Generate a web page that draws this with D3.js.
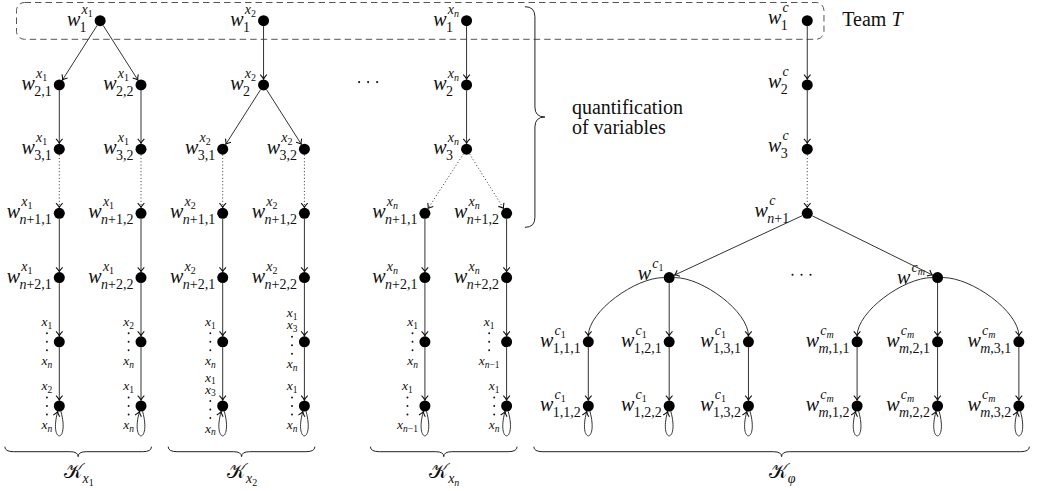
<!DOCTYPE html>
<html><head><meta charset="utf-8">
<script src="https://cdn.jsdelivr.net/npm/d3@7"></script>
<style>
body{margin:0;background:#fff}
svg{display:block}
text{font-family:"Liberation Serif","DejaVu Serif",serif;fill:#111}
</style></head>
<body><svg id="c" width="1051" height="491"></svg>
<script>
// ---------- data ----------
// id, column (x unit), row, superscript, subscript
const nodes = [
 ["a1",1,0,"x_1","1"],
 ["a21",0,1,"x_1","2,1"],["a22",2,1,"x_1","2,2"],
 ["a31",0,2,"x_1","3,1"],["a32",2,2,"x_1","3,2"],
 ["a41",0,3,"x_1","n+1,1"],["a42",2,3,"x_1","n+1,2"],
 ["a51",0,4,"x_1","n+2,1"],["a52",2,4,"x_1","n+2,2"],
 ["a61",0,5,"",""],["a62",2,5,"",""],
 ["a71",0,6,"",""],["a72",2,6,"",""],
 ["b1",5,0,"x_2","1"],["b2",5,1,"x_2","2"],
 ["b31",4,2,"x_2","3,1"],["b32",6,2,"x_2","3,2"],
 ["b41",4,3,"x_2","n+1,1"],["b42",6,3,"x_2","n+1,2"],
 ["b51",4,4,"x_2","n+2,1"],["b52",6,4,"x_2","n+2,2"],
 ["b61",4,5,"",""],["b62",6,5,"",""],
 ["b71",4,6,"",""],["b72",6,6,"",""],
 ["n1",9.97,0,"x_n","1"],["n2",9.97,1,"x_n","2"],["n3",9.97,2,"x_n","3"],
 ["n41",8.95,3,"x_n","n+1,1"],["n42",10.95,3,"x_n","n+1,2"],
 ["n51",8.95,4,"x_n","n+2,1"],["n52",10.95,4,"x_n","n+2,2"],
 ["n61",8.95,5,"",""],["n62",10.95,5,"",""],
 ["n71",8.95,6,"",""],["n72",10.95,6,"",""],
 ["c1",18.31,0,"c","1"],["c2",18.31,1,"c","2"],["c3",18.31,2,"c","3"],["c4",18.31,3,"c","n+1"],
 ["d",14.93,4,"c_1",""],
 ["d11",12.95,5,"c_1","1,1,1"],["d21",14.93,5,"c_1","1,2,1"],["d31",16.87,5,"c_1","1,3,1"],
 ["d12",12.95,6,"c_1","1,1,2"],["d22",14.93,6,"c_1","1,2,2"],["d32",16.87,6,"c_1","1,3,2"],
 ["e",21.5,4,"c_m",""],
 ["e11",19.53,5,"c_m","m,1,1"],["e21",21.5,5,"c_m","m,2,1"],["e31",23.49,5,"c_m","m,3,1"],
 ["e12",19.53,6,"c_m","m,1,2"],["e22",21.5,6,"c_m","m,2,2"],["e32",23.49,6,"c_m","m,3,2"]
];
// from, to, style (s solid, d dotted, L/R curved)
const edges = [
 ["a1","a21","s"],["a1","a22","s"],["a21","a31","s"],["a22","a32","s"],
 ["a31","a41","d"],["a32","a42","d"],["a41","a51","s"],["a42","a52","s"],
 ["a51","a61","s"],["a52","a62","s"],["a61","a71","s"],["a62","a72","s"],
 ["b1","b2","s"],["b2","b31","s"],["b2","b32","s"],["b31","b41","d"],["b32","b42","d"],
 ["b41","b51","s"],["b42","b52","s"],["b51","b61","s"],["b52","b62","s"],["b61","b71","s"],["b62","b72","s"],
 ["n1","n2","s"],["n2","n3","s"],["n3","n41","d"],["n3","n42","d"],
 ["n41","n51","s"],["n42","n52","s"],["n51","n61","s"],["n52","n62","s"],["n61","n71","s"],["n62","n72","s"],
 ["c1","c2","s"],["c2","c3","s"],["c3","c4","d"],["c4","d","s"],["c4","e","s"],
 ["d","d11","L"],["d","d21","s"],["d","d31","R"],
 ["e","e11","L"],["e","e21","s"],["e","e31","R"],
 ["d11","d12","s"],["d21","d22","s"],["d31","d32","s"],
 ["e11","e12","s"],["e21","e22","s"],["e31","e32","s"]
];
const loops = ["a71","a72","b71","b72","n71","n72","d12","d22","d32","e12","e22","e32"];
const propLabels = [
 ["a61",["x_1","⋮","x_n"]],["a71",["x_2","⋮","x_n"]],
 ["a62",["x_2","⋮","x_n"]],["a72",["x_1","⋮","x_n"]],
 ["b61",["x_1","⋮","x_n"]],["b71",["x_1","x_3","⋮","x_n"]],
 ["b62",["x_1","x_3","⋮","x_n"]],["b72",["x_1","⋮","x_n"]],
 ["n61",["x_1","⋮","x_n"]],["n71",["x_1","⋮","x_n−1"]],
 ["n62",["x_1","⋮","x_n−1"]],["n72",["x_1","⋮","x_n"]]
];
const braceGroups = [["a71","a72","x_1"],["b71","b72","x_2"],["n71","n72","x_n"],["d12","e32","φ"]];
const ellipses = [[7.56,1],[18.17,4]];
const teamLabel = ["Team ","T"];
const quantLines = ["quantification","of variables"];

// ---------- layout ----------
const svg = d3.select("#c");
const xScale = d3.scaleLinear().domain([0,24]).range([59.3,59.3+24*40.85]);
const yScale = d3.scaleLinear().domain([0,6]).range([20.7,406]);
const R = 5.5;
const labelAdjust = {c1:{gap:18.5,dy:-2},c2:{gap:18.5,dy:-2},c3:{gap:18.5,dy:-2},c4:{gap:18,dy:-1.5},
                     d:{gap:5.7,dy:-2.7},e:{gap:12.7,dy:1}};
const N = {};
nodes.forEach(([id,c,r,sup,sub])=>{N[id]={id,x:xScale(c),y:yScale(r),sup,sub};});

const defs = svg.append("defs");
defs.append("marker").attr("id","arr").attr("viewBox","-6 -5 7 10").attr("refX",0).attr("refY",0)
 .attr("markerWidth",7).attr("markerHeight",10).attr("markerUnits","userSpaceOnUse").attr("orient","auto")
 .append("path").attr("d","M-4.4,-3.3 Q-1.6,-0.6 0,0 Q-1.6,0.6 -4.4,3.3")
 .attr("fill","none").attr("stroke","#111").attr("stroke-width",1.1);

const gBox = svg.append("g"), gEdges = svg.append("g"), gNodes = svg.append("g"), gLab = svg.append("g");

// dashed team box
const bx0 = xScale(0)-42.8, bx1 = N.c1.x+16.7, by0 = yScale(0)-18.2, by1 = yScale(0)+18.6;
gBox.append("rect").attr("x",bx0).attr("y",by0).attr("width",bx1-bx0).attr("height",by1-by0)
 .attr("rx",8).attr("fill","none").attr("stroke","#555").attr("stroke-width",1).attr("stroke-dasharray","6.5,4");

// edges
edges.forEach(([f,t,st])=>{
  const a=N[f], b=N[t];
  let d;
  if(st==="L"||st==="R"){
    const s = st==="L"?-1:1;
    const x0=a.x+s*R, y0=a.y, x1=b.x, y1=b.y-R-0.4;
    const dx=Math.abs(x1-a.x), dy=y1-a.y, k=0.42;
    d=`M${x0},${y0} C${a.x+s*k*dx},${y0} ${x1},${y1-k*dy} ${x1},${y1}`;
  } else {
    const dx=b.x-a.x, dy=b.y-a.y, L=Math.hypot(dx,dy), ux=dx/L, uy=dy/L;
    d=`M${a.x+ux*R},${a.y+uy*R} L${b.x-ux*(R+0.4)},${b.y-uy*(R+0.4)}`;
  }
  const p=gEdges.append("path").attr("d",d).attr("fill","none").attr("stroke","#333")
    .attr("stroke-width",1).attr("marker-end","url(#arr)");
  if(st==="d") p.attr("stroke-dasharray","1,2.3");
});
loops.forEach(id=>{
  const n=N[id];
  gEdges.append("path")
   .attr("d",`M${n.x+1.6},${n.y+5.3} C${n.x+10.5},${n.y+38} ${n.x-10.5},${n.y+38} ${n.x-1.6},${n.y+5.6}`)
   .attr("fill","none").attr("stroke","#333").attr("stroke-width",1).attr("marker-end","url(#arr)");
});

// nodes
gNodes.selectAll("circle").data(nodes).join("circle")
 .attr("cx",d=>xScale(d[1])).attr("cy",d=>yScale(d[2])).attr("r",R).attr("fill","#000");

// math text helpers
const LET=/[A-Za-zφ]/;
function addRuns(t,s,size,dy){
  const parts=s.match(/[A-Za-zφ]+|[^A-Za-zφ]+/g)||[];
  parts.forEach((p,i)=>{
    const ts=t.append("tspan").attr("font-size",size).attr("font-style",LET.test(p)?"italic":"normal").text(p);
    if(i===0&&dy) ts.attr("dy",dy);
  });
}
function mathRuns(t,str,size,small,lower){
  const [base,sub]=str.split("_");
  addRuns(t,base,size,0);
  if(sub) addRuns(t,sub,small,lower);
}

// w labels
Object.values(N).forEach(n=>{
  if(!n.sup && !n.sub) return;
  const adj=labelAdjust[n.id]||{gap:7.5,dy:0};
  const g=gLab.append("g");
  const w=g.append("text").attr("font-size",20).attr("font-style","italic").text("w");
  const ww=w.node().getComputedTextLength();
  let right=ww;
  if(n.sup){
    const t=g.append("text").attr("x",ww+1.2).attr("y",-12);
    mathRuns(t,n.sup,14,10,3);
    right=Math.max(right,ww+1.2+t.node().getComputedTextLength());
  }
  if(n.sub){
    const t=g.append("text").attr("x",ww-0.6).attr("y",6);
    mathRuns(t,n.sub,14,10,3);
    right=Math.max(right,ww-0.6+t.node().getComputedTextLength());
  }
  g.attr("transform",`translate(${n.x-adj.gap-right},${n.y+5+adj.dy})`);
});

// proposition stacks: one text element per stack, one line-tspan per item
propLabels.forEach(([id,items])=>{
  const n=N[id];
  const g=gLab.append("g");
  const txt=g.append("text");
  const nText=items.filter(s=>s!=="⋮").length;
  let b=n.y-16-8.5*(nText-2);
  let maxW=0; const placed=[];
  items.forEach((s,i)=>{
    if(s==="⋮"){
      const ys=[b+7.5,b+16,b+24.5];
      placed.push({dots:ys}); b=b+24.5+14.5;
    } else {
      const line=txt.append("tspan").attr("y",b);
      mathRuns(line,s,13.5,9.5,2.8);
      const w=line.node().getComputedTextLength();
      maxW=Math.max(maxW,w);
      placed.push({line,w}); if(i<items.length-1 && items[i+1]!=="⋮") b+=12;
    }
  });
  const cx=n.x-7-maxW/2;
  placed.forEach(p=>{
    if(p.dots) p.dots.forEach(y=>g.append("circle").attr("cx",cx).attr("cy",y).attr("r",0.95).attr("fill","#111"));
    else p.line.attr("x",cx-p.w/2);
  });
});

// ellipsis dots
ellipses.forEach(([c,r])=>{
  [-9,0,9].forEach(o=>gLab.append("circle").attr("cx",xScale(c)+o).attr("cy",yScale(r)-2.8).attr("r",1.05).attr("fill","#111"));
});

// bottom braces
braceGroups.forEach(([l,r,sub])=>{
  const x0=N[l].x-54.5, x1=N[r].x+10.5, xm=(x0+x1)/2, y0=yScale(6)+40.7;
  const d=`M${x0},${y0} Q${x0},${y0+5} ${x0+9},${y0+5} L${xm-8},${y0+5} Q${xm},${y0+5} ${xm},${y0+10} `+
          `Q${xm},${y0+5} ${xm+8},${y0+5} L${x1-9},${y0+5} Q${x1},${y0+5} ${x1},${y0}`;
  gBox.append("path").attr("d",d).attr("fill","none").attr("stroke","#222").attr("stroke-width",1);
  const t=gLab.append("text").attr("y",y0+31);
  t.append("tspan").attr("font-size",20).text("𝒦");
  const [bs,ss]=sub.split("_");
  t.append("tspan").attr("font-size",14).attr("font-style","italic").attr("dy",5).text(bs);
  if(ss) addRuns(t,ss,10,3);
  const w=t.node().getComputedTextLength();
  t.attr("x",xm-w/2+0.5);
});

// right brace for quantification
{
  const x0=N.n42.x+18.3, yt=yScale(0)-14, yb=yScale(3)+14, ym=(yt+yb)/2, h=20;
  const d=`M${x0},${yt} Q${x0+h/2},${yt} ${x0+h/2},${yt+h/2} L${x0+h/2},${ym-h/2} Q${x0+h/2},${ym} ${x0+h},${ym} `+
          `Q${x0+h/2},${ym} ${x0+h/2},${ym+h/2} L${x0+h/2},${yb-h/2} Q${x0+h/2},${yb} ${x0},${yb}`;
  gBox.append("path").attr("d",d).attr("fill","none").attr("stroke","#222").attr("stroke-width",1);
  quantLines.forEach((s,i)=>gLab.append("text").attr("x",x0+47).attr("y",ym-3.5+i*20).attr("font-size",20).text(s));
}

// Team T
{
  const t=gLab.append("text").attr("x",N.c1.x+35).attr("y",yScale(0)+5).attr("font-size",20);
  t.append("tspan").text(teamLabel[0]);
  t.append("tspan").attr("font-style","italic").text(teamLabel[1]);
}
</script></body></html>
